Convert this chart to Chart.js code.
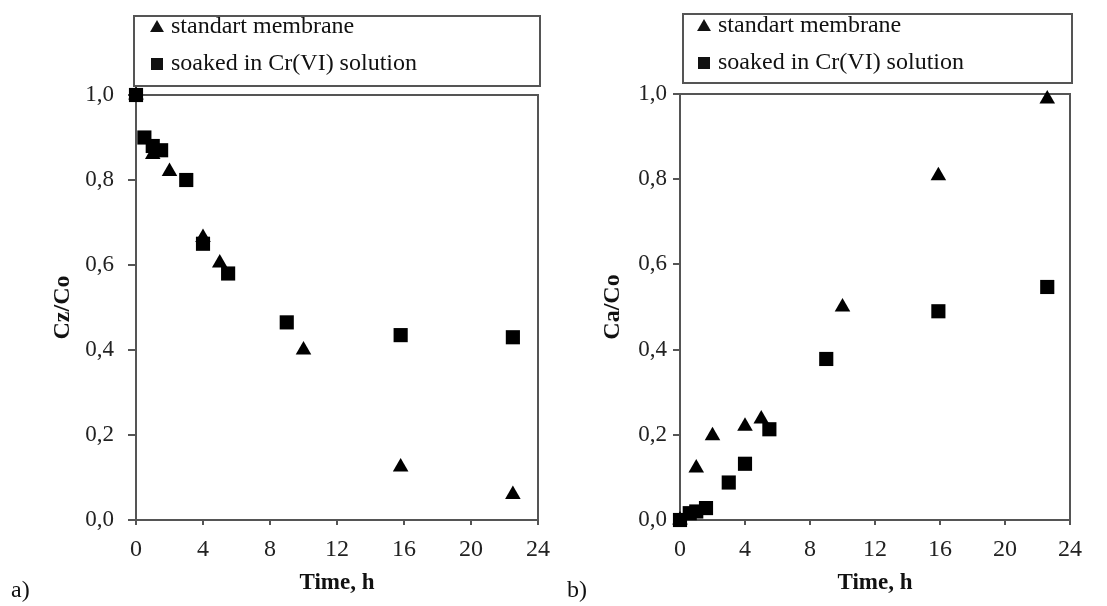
<!DOCTYPE html>
<html>
<head>
<meta charset="utf-8">
<script src="https://cdn.jsdelivr.net/npm/chart.js@4/dist/chart.umd.min.js"></script>
<style>
  body { margin: 0; background: #fff; }
  #wrap { position: relative; width: 1107px; height: 606px; }
  .panel { position: absolute; top: 0; height: 606px; }
  .tag { position: absolute; top: 576px; font: 24px "Liberation Serif", serif; color: #111; }
</style>
</head>
<body>
<div id="wrap">
  <div class="panel" style="left:0; width:553px;"><canvas id="chartA"></canvas></div>
  <div class="panel" style="left:553px; width:554px;"><canvas id="chartB"></canvas></div>
  <div class="tag" style="left:11px;">a)</div>
  <div class="tag" style="left:567px;">b)</div>
</div>
<script>
// panel a) - Cz/Co vs time
const timeA_std = [0, 1, 2, 4, 5, 10, 15.8, 22.5];
const ratioA_std = [1.0, 0.86, 0.82, 0.665, 0.605, 0.40, 0.125, 0.06];
const timeA_soak = [0, 0.5, 1, 1.5, 3, 4, 5.5, 9, 15.8, 22.5];
const ratioA_soak = [1.0, 0.90, 0.88, 0.87, 0.80, 0.65, 0.58, 0.465, 0.435, 0.43];

// panel b) - Ca/Co vs time
const timeB_std = [0, 1, 2, 4, 5, 10, 15.9, 22.6];
const ratioB_std = [0, 0.122, 0.198, 0.22, 0.237, 0.50, 0.808, 0.988];
const timeB_soak = [0, 0.6, 1, 1.6, 3, 4, 5.5, 9, 15.9, 22.6];
const ratioB_soak = [0, 0.016, 0.02, 0.028, 0.088, 0.132, 0.213, 0.378, 0.49, 0.547];

const seriesLabels = ["standart membrane", "soaked in Cr(VI) solution"];
const xTicks = [0, 4, 8, 12, 16, 20, 24];
const yTicks = [0, 0.2, 0.4, 0.6, 0.8, 1.0];

const serif = "'Liberation Serif', 'Times New Roman', serif";

function pts(xs, ys) {
    return xs.map((x, i) => ({ x: x, y: ys[i] }));
}

function marker(ctx, style, x, y, r) {
    ctx.beginPath();
    if (style === "triangle") {
        ctx.moveTo(x, y - r);
        ctx.lineTo(x + r * 0.866, y + r / 2);
        ctx.lineTo(x - r * 0.866, y + r / 2);
        ctx.closePath();
    } else {
        ctx.rect(x - r * 0.75, y - r * 0.75, r * 1.5, r * 1.5);
    }
    ctx.fill();
}

// plot frame (behind points) and boxed legend above the plot
const framePlugin = {
    id: "frame",
    beforeDatasetsDraw(chart) {
        const { ctx, chartArea: a } = chart;
        ctx.save();
        ctx.strokeStyle = "#555";
        ctx.lineWidth = 2;
        ctx.strokeRect(a.left, a.top, a.right - a.left, a.bottom - a.top);
        ctx.restore();
    },
    afterDraw(chart, args, opts) {
        const { ctx, chartArea: a } = chart;
        ctx.save();
        ctx.strokeStyle = "#555";
        ctx.lineWidth = 2;
        ctx.strokeRect(a.left + opts.dl, opts.top, a.right - a.left - opts.dl + opts.dr, opts.bottom - opts.top);
        ctx.fillStyle = "#111";
        ctx.font = "24px " + serif;
        ctx.textBaseline = "middle";
        chart.data.datasets.forEach((ds, i) => {
            const y = opts.rows[i];
            marker(ctx, ds.pointStyle, opts.markerX, y + (ds.pointStyle === "triangle" ? 1 : 0), 8);
            ctx.fillText(ds.label, opts.markerX + 14, y);
        });
        ctx.restore();
    }
};

function makeChart(id, g) {
    const ctx = document.getElementById(id).getContext("2d");
    return new Chart(ctx, {
        type: "scatter",
        data: {
            datasets: [{
                label: seriesLabels[0],
                data: pts(g.xStd, g.yStd),
                pointStyle: "triangle",
                pointRadius: 9,
                pointHoverRadius: 9,
                backgroundColor: "#000",
                borderWidth: 0,
                clip: false
            }, {
                label: seriesLabels[1],
                data: pts(g.xSoak, g.ySoak),
                pointStyle: "rect",
                pointRadius: 10,
                pointHoverRadius: 10,
                backgroundColor: "#000",
                borderWidth: 0,
                clip: false
            }]
        },
        options: {
            responsive: true,
            maintainAspectRatio: false,
            animation: false,
            layout: { padding: { left: 0, right: g.padRight, top: g.padTop, bottom: 0 } },
            plugins: {
                legend: { display: false },
                tooltip: { enabled: false },
                frame: g.legend
            },
            scales: {
                x: {
                    type: "linear",
                    min: 0,
                    max: 24,
                    afterBuildTicks: s => { s.ticks = xTicks.map(v => ({ value: v })); },
                    afterFit: s => { s.height = 86; s.paddingLeft = 0; s.paddingRight = 0; },
                    grid: { display: true, drawOnChartArea: false, drawTicks: true, tickLength: 5, color: "#555", lineWidth: 2 },
                    border: { display: true, color: "#555", width: 2 },
                    ticks: { color: "#222", padding: 10, font: { family: serif, size: 24 }, maxRotation: 0 },
                    title: {
                        display: true,
                        text: "Time, h",
                        color: "#111",
                        font: { family: serif, size: 23, weight: "bold" },
                        padding: { top: 0, bottom: 9 }
                    }
                },
                y: {
                    min: 0,
                    max: 1,
                    afterBuildTicks: s => { s.ticks = yTicks.map(v => ({ value: v })); },
                    afterFit: s => { s.width = g.yWidth; },
                    grid: { display: true, drawOnChartArea: false, drawTicks: true, tickLength: g.tickLen, color: "#555", lineWidth: 2 },
                    border: { display: true, color: "#555", width: 2 },
                    ticks: {
                        color: "#222",
                        padding: g.tickPad,
                        font: { family: serif, size: 23 },
                        callback: v => v.toFixed(1).replace(".", ",")
                    },
                    title: {
                        display: true,
                        text: g.yTitle,
                        color: "#111",
                        font: { family: serif, size: 24, weight: "bold" },
                        padding: { top: g.titlePad, bottom: 0 }
                    }
                }
            }
        },
        plugins: [framePlugin]
    });
}

document.addEventListener("DOMContentLoaded", function () {
    makeChart("chartA", {
        xStd: timeA_std, yStd: ratioA_std, xSoak: timeA_soak, ySoak: ratioA_soak,
        yTitle: "Cz/Co",
        padTop: 95, padRight: 15, yWidth: 136,
        tickLen: 8, tickPad: 14, titlePad: 48,
        legend: { top: 16, bottom: 86, dl: -2, dr: 2, markerX: 157, rows: [27, 64] }
    });
    makeChart("chartB", {
        xStd: timeB_std, yStd: ratioB_std, xSoak: timeB_soak, ySoak: ratioB_soak,
        yTitle: "Ca/Co",
        padTop: 94, padRight: 37, yWidth: 127,
        tickLen: 7, tickPad: 6, titlePad: 45,
        legend: { top: 14, bottom: 83, dl: 3, dr: 2, markerX: 151, rows: [26, 63] }
    });
});
</script>
</body>
</html>
